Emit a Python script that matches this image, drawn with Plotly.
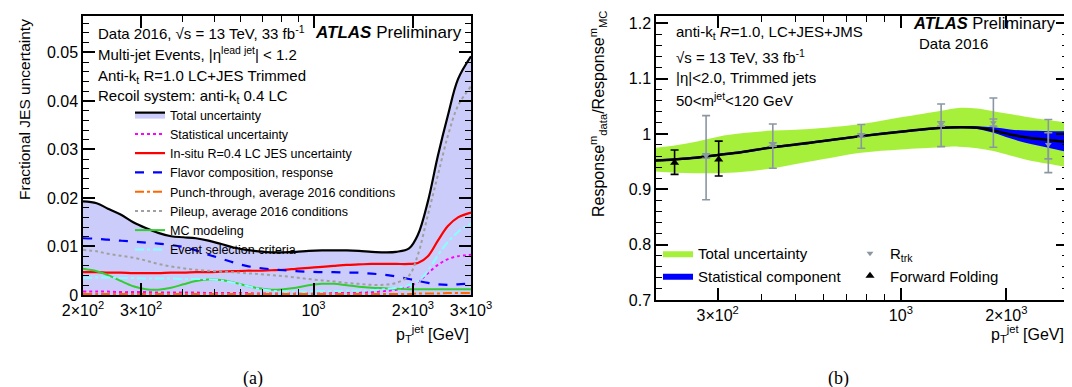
import numpy as np
import plotly.graph_objects as go

# ---------------- Panel (a): JES uncertainty components ----------------
pt_a = [200, 220, 238, 260, 284, 310, 338, 370, 403, 440, 480, 525, 572, 625, 681, 745, 811,
        885, 967, 1060, 1151, 1260, 1372, 1500, 1634, 1780, 1947, 2071, 2221, 2381, 2553, 2740, 3000]
unc_total = [0.0193, 0.0189, 0.0178, 0.0166, 0.0150, 0.0138, 0.0128, 0.0121, 0.0119, 0.0117, 0.0112,
             0.0105, 0.0098, 0.0093, 0.0090, 0.0088, 0.0088, 0.0089, 0.0091, 0.0092, 0.0092, 0.0092,
             0.0091, 0.0089, 0.0088, 0.0089, 0.0096, 0.0124, 0.0193, 0.0287, 0.0370, 0.0445, 0.0492]
unc_stat = [0.0007, 0.0007, 0.0007, 0.0006, 0.0006, 0.0006, 0.0005, 0.0005, 0.0005, 0.0005, 0.0004,
            0.0004, 0.0004, 0.0004, 0.0003, 0.0003, 0.0003, 0.0003, 0.0003, 0.0003, 0.0004, 0.0004,
            0.0005, 0.0006, 0.0008, 0.0011, 0.0018, 0.0027, 0.0045, 0.0062, 0.0074, 0.0080, 0.0083]
unc_insitu = [0.0047, 0.0047, 0.0046, 0.0046, 0.0045, 0.0045, 0.0045, 0.0046, 0.0046, 0.0047, 0.0047,
              0.0048, 0.0049, 0.0050, 0.0050, 0.0051, 0.0052, 0.0054, 0.0056, 0.0058, 0.0060, 0.0062,
              0.0063, 0.0064, 0.0064, 0.0064, 0.0064, 0.0066, 0.0080, 0.0112, 0.0142, 0.0160, 0.0170]
unc_flavor = [0.0117, 0.0116, 0.0114, 0.0112, 0.0110, 0.0108, 0.0106, 0.0103, 0.0099, 0.0092, 0.0083,
              0.0075, 0.0067, 0.0060, 0.0056, 0.0053, 0.0051, 0.0049, 0.0048, 0.0047, 0.0047, 0.0046,
              0.0046, 0.0044, 0.0042, 0.0038, 0.0033, 0.0029, 0.0025, 0.0022, 0.0021, 0.0022, 0.0024]
unc_punch = [0.0002, 0.0002, 0.0002, 0.0002, 0.0002, 0.0002, 0.0002, 0.0002, 0.0002, 0.0002, 0.0002,
             0.0002, 0.0002, 0.0002, 0.0002, 0.0002, 0.0002, 0.0002, 0.0002, 0.0002, 0.0002, 0.0002,
             0.0002, 0.0002, 0.0002, 0.0002, 0.0002, 0.0003, 0.0003, 0.0003, 0.0004, 0.0004, 0.0004]
unc_pileup = [0.0093, 0.0090, 0.0085, 0.0081, 0.0077, 0.0071, 0.0064, 0.0059, 0.0055, 0.0052, 0.0050,
              0.0048, 0.0047, 0.0045, 0.0043, 0.0041, 0.0039, 0.0036, 0.0033, 0.0030, 0.0028, 0.0025,
              0.0023, 0.0021, 0.0021, 0.0025, 0.0040, 0.0083, 0.0165, 0.0247, 0.0328, 0.0390, 0.0430]
unc_mc = [0.0054, 0.0049, 0.0041, 0.0029, 0.0018, 0.0012, 0.0011, 0.0015, 0.0022, 0.0029, 0.0032,
          0.0031, 0.0026, 0.0019, 0.0014, 0.0011, 0.0012, 0.0015, 0.0020, 0.0023, 0.0023, 0.0020,
          0.0017, 0.0015, 0.0014, 0.0013, 0.0012, 0.0012, 0.0012, 0.0012, 0.0012, 0.0012, 0.0012]
unc_evsel = [0.0035, 0.0036, 0.0036, 0.0035, 0.0035, 0.0034, 0.0034, 0.0034, 0.0033, 0.0033, 0.0032,
             0.0030, 0.0025, 0.0019, 0.0013, 0.0009, 0.0007, 0.0007, 0.0007, 0.0008, 0.0008, 0.0009,
             0.0009, 0.0010, 0.0012, 0.0015, 0.0020, 0.0028, 0.0050, 0.0082, 0.0109, 0.0130, 0.0147]

# ---------------- Panel (b): mass response ratio ----------------
pt_b = [200, 226, 260, 301, 350, 431, 550, 771, 1000, 1303, 1459, 1650, 1837, 2050, 2266, 2636, 3000]
resp_central = [0.952, 0.954, 0.957, 0.962, 0.967, 0.976, 0.984, 0.996, 1.004, 1.011, 1.012, 1.011,
                1.006, 0.999, 0.994, 0.989, 0.985]
tot_up = [0.975, 0.979, 0.986, 0.995, 1.001, 1.006, 1.009, 1.018, 1.030, 1.042, 1.047, 1.046, 1.041,
          1.036, 1.031, 1.025, 1.020]
tot_down = [0.932, 0.930, 0.929, 0.929, 0.931, 0.938, 0.950, 0.966, 0.972, 0.976, 0.977, 0.974, 0.969,
            0.961, 0.954, 0.946, 0.940]
stat_up_err = [0.002, 0.002, 0.002, 0.002, 0.002, 0.002, 0.002, 0.002, 0.002, 0.002, 0.002, 0.003,
               0.006, 0.009, 0.012, 0.016, 0.020]
stat_dn_err = [0.002, 0.002, 0.002, 0.002, 0.002, 0.002, 0.002, 0.002, 0.002, 0.002, 0.002, 0.002,
               0.004, 0.007, 0.010, 0.014, 0.018]

rtrk_pt = [278, 431, 771, 1303, 1837, 2636]
rtrk_val = [0.960, 0.981, 0.997, 1.018, 1.020, 0.981]
rtrk_err_up = [0.073, 0.037, 0.020, 0.036, 0.045, 0.045]
rtrk_err_dn = [0.079, 0.043, 0.023, 0.041, 0.044, 0.051]
rtrk_stat_up = [0.004, 0.003, 0.003, 0.004, 0.007, 0.021]
rtrk_stat_dn = [0.004, 0.003, 0.003, 0.004, 0.006, 0.026]

ff_pt = [226, 302]
ff_val = [0.948, 0.954]
ff_err_up = [0.023, 0.033]
ff_err_dn = [0.021, 0.030]

W, H = 1072, 387
FONT = "Liberation Sans, Arial, Helvetica, sans-serif"
SERIF = "Liberation Serif, Times New Roman, serif"


def px_x(p):
    return p / W


def px_y(p):
    return 1 - p / H


fig = go.Figure()

# ---- panel (a) traces
fig.add_trace(go.Scatter(x=pt_a, y=unc_total, name="Total uncertainty", mode="lines",
                         line=dict(color="black", width=2.2, shape="spline"), fill="tozeroy",
                         fillcolor="rgb(204,204,250)", xaxis="x", yaxis="y", legend="legend"))
series_a = [
    ("Statistical uncertainty", unc_stat, "#ff00ff", "dot", 2),
    ("In-situ R=0.4 LC JES uncertainty", unc_insitu, "#ff0000", "solid", 2.2),
    ("Flavor composition, response", unc_flavor, "#0000ff", "dash", 2.2),
    ("Punch-through, average 2016 conditions", unc_punch, "#ff6600", "dashdot", 2),
    ("Pileup, average 2016 conditions", unc_pileup, "#a0a0a0", "dot", 2),
    ("MC modeling", unc_mc, "#33cc33", "solid", 2),
    ("Event selection criteria", unc_evsel, "#88ffff", "dashdot", 2),
]
for name, vals, col, dash, w in series_a:
    fig.add_trace(go.Scatter(x=pt_a, y=vals, name=name, mode="lines",
                             line=dict(color=col, width=w, dash=dash, shape="spline"),
                             xaxis="x", yaxis="y", legend="legend"))

# ---- panel (b) traces
fig.add_trace(go.Scatter(x=pt_b, y=tot_down, mode="lines", line=dict(width=0, shape="spline"),
                         showlegend=False, hoverinfo="skip", xaxis="x2", yaxis="y2"))
fig.add_trace(go.Scatter(x=pt_b, y=tot_up, mode="lines", name="Total uncertainty",
                         line=dict(width=0, shape="spline", color="#a6f03c"), fill="tonexty",
                         fillcolor="#a6f03c", xaxis="x2", yaxis="y2", legend="legend2"))
stat_lo = [c - e for c, e in zip(resp_central, stat_dn_err)]
stat_hi = [c + e for c, e in zip(resp_central, stat_up_err)]
fig.add_trace(go.Scatter(x=pt_b, y=stat_lo, mode="lines", line=dict(width=0, shape="spline"),
                         showlegend=False, hoverinfo="skip", xaxis="x2", yaxis="y2"))
fig.add_trace(go.Scatter(x=pt_b, y=stat_hi, mode="lines", name="Statistical component",
                         line=dict(width=0, shape="spline", color="#0000ff"), fill="tonexty",
                         fillcolor="#0000ff", xaxis="x2", yaxis="y2", legend="legend2"))
fig.add_trace(go.Scatter(x=pt_b, y=resp_central, mode="lines", showlegend=False,
                         line=dict(color="black", width=2.5, shape="spline"), xaxis="x2", yaxis="y2"))
fig.add_trace(go.Scatter(x=rtrk_pt, y=rtrk_val, mode="markers", name="R<sub>trk</sub>",
                         marker=dict(symbol="triangle-down", size=6, color="#8a97a3"),
                         error_y=dict(type="data", symmetric=False, array=rtrk_err_up,
                                      arrayminus=rtrk_err_dn, color="#8a97a3", thickness=1.6, width=4),
                         xaxis="x2", yaxis="y2", legend="legend3"))
fig.add_trace(go.Scatter(x=rtrk_pt, y=rtrk_val, mode="markers", showlegend=False,
                         marker=dict(size=1, color="rgba(0,0,0,0)"),
                         error_y=dict(type="data", symmetric=False, array=rtrk_stat_up,
                                      arrayminus=rtrk_stat_dn, color="#8a97a3", thickness=1.6, width=4),
                         xaxis="x2", yaxis="y2"))
fig.add_trace(go.Scatter(x=ff_pt, y=ff_val, mode="markers", name="Forward Folding",
                         marker=dict(symbol="triangle-up", size=8, color="black"),
                         error_y=dict(type="data", symmetric=False, array=ff_err_up,
                                      arrayminus=ff_err_dn, color="black", thickness=1.6, width=4),
                         xaxis="x2", yaxis="y2", legend="legend3"))

axis_common = dict(showline=True, linecolor="black", linewidth=1.5, mirror="allticks",
                   ticks="inside", ticklen=12, tickwidth=1.5, tickcolor="black",
                   showgrid=False, zeroline=False, automargin=False,
                   tickfont=dict(family=FONT, size=16, color="black"))
minor_common = dict(ticks="inside", ticklen=6, tickwidth=1.2, tickcolor="black", showgrid=False)

xa_dom = [px_x(75), px_x(463)]
ya_dom = [px_y(287), px_y(8)]
xb_dom = [px_x(648), px_x(1060)]
yb_dom = [px_y(292), px_y(8)]

fig.update_layout(
    template="none",
    width=W, height=H, margin=dict(l=0, r=0, t=0, b=0, autoexpand=False),
    paper_bgcolor="white", plot_bgcolor="white",
    font=dict(family=FONT, color="black"),
    xaxis=dict(axis_common, domain=xa_dom, type="log", range=[np.log10(200), np.log10(3000)],
               anchor="y", tickmode="array", tickvals=[200, 300, 1000, 2000, 3000],
               ticktext=["2×10<sup>2</sup>", "3×10<sup>2</sup>", "10<sup>3</sup>",
                         "2×10<sup>3</sup>", "3×10<sup>3</sup>"],
               minor=dict(minor_common, tickmode="array",
                          tickvals=[400, 500, 600, 700, 800, 900])),
    yaxis=dict(axis_common, domain=ya_dom, range=[0, 0.0575], anchor="x", tickmode="array",
               tickvals=[0, 0.01, 0.02, 0.03, 0.04, 0.05],
               ticktext=["0", "0.01", "0.02", "0.03", "0.04", "0.05"],
               minor=dict(minor_common, tickmode="linear", tick0=0, dtick=0.002)),
    xaxis2=dict(axis_common, domain=xb_dom, type="log", range=[np.log10(200), np.log10(3000)],
                anchor="y2", tickmode="array", tickvals=[300, 1000, 2000],
                ticktext=["3×10<sup>2</sup>", "10<sup>3</sup>", "2×10<sup>3</sup>"],
                minor=dict(minor_common, tickmode="array",
                           tickvals=[200, 400, 500, 600, 700, 800, 900, 3000])),
    yaxis2=dict(axis_common, domain=yb_dom, range=[0.7, 1.213], anchor="x2", tickmode="array",
                tickvals=[0.7, 0.8, 0.9, 1.0, 1.1, 1.2],
                ticktext=["0.7", "0.8", "0.9", "1", "1.1", "1.2"],
                minor=dict(minor_common, tickmode="linear", tick0=0.7, dtick=0.02)),
    legend=dict(x=px_x(122), y=px_y(92), xanchor="left", yanchor="top", bgcolor="rgba(0,0,0,0)",
                font=dict(family=FONT, size=12.5, color="black"), traceorder="normal",
                tracegroupgap=0, borderwidth=0),
    legend2=dict(x=px_x(650), y=px_y(229), xanchor="left", yanchor="top", bgcolor="rgba(0,0,0,0)",
                 font=dict(family=FONT, size=15, color="black"), traceorder="normal", borderwidth=0),
    legend3=dict(x=px_x(842), y=px_y(229), xanchor="left", yanchor="top", bgcolor="rgba(0,0,0,0)",
                 font=dict(family=FONT, size=15, color="black"), traceorder="normal", borderwidth=0),
)

ann = []


def txt(text, x, y, size=15, xanchor="left", family=FONT, textangle=0, yanchor="middle"):
    ann.append(dict(text=text, x=px_x(x), y=px_y(y), xref="paper", yref="paper", showarrow=False,
                    xanchor=xanchor, yanchor=yanchor, textangle=textangle,
                    font=dict(family=family, size=size, color="black")))


# panel (a) labels
txt("Data 2016, √s = 13 TeV, 33 fb<sup>-1</sup>", 88, 25, 15)
txt("<b><i>ATLAS</i></b> Preliminary", 456, 25, 17, xanchor="right")
txt("Multi-jet Events, |η<sup>lead jet</sup>| &lt; 1.2", 88, 46, 15)
txt("Anti-k<sub>t</sub> R=1.0 LC+JES Trimmed", 88, 68, 15)
txt("Recoil system: anti-k<sub>t</sub> 0.4 LC", 88, 88, 15)
txt("Fractional JES uncertainty", 16, 102, 15.5, xanchor="center", textangle=-90)
txt("p<sub>T</sub><sup>jet</sup> [GeV]", 463, 326, 16, xanchor="right")

# panel (b) labels
txt("anti-k<sub>t</sub> <i>R</i>=1.0, LC+JES+JMS", 666, 25, 15)
txt("√s = 13 TeV, 33 fb<sup>-1</sup>", 666, 48, 15)
txt("|η|&lt;2.0, Trimmed jets", 666, 70, 15)
txt("50&lt;m<sup>jet</sup>&lt;120 GeV", 666, 91, 15)
txt("<b><i>ATLAS</i></b> Preliminary", 1050, 15, 16.5, xanchor="right")
txt("Data 2016", 909, 36, 15)
txt("Response<sup>m</sup><sub>data</sub>/Response<sup>m</sup><sub>MC</sub>", 590, 106, 16,
    xanchor="center", textangle=-90)
txt("p<sub>T</sub><sup>jet</sup> [GeV]", 1058, 326, 16, xanchor="right")

# sub-figure labels
txt("(a)", 245, 370, 18, xanchor="center", family=SERIF)
txt("(b)", 830, 370, 18, xanchor="center", family=SERIF)

fig.update_layout(annotations=ann)
fig.write_html("out.html")
